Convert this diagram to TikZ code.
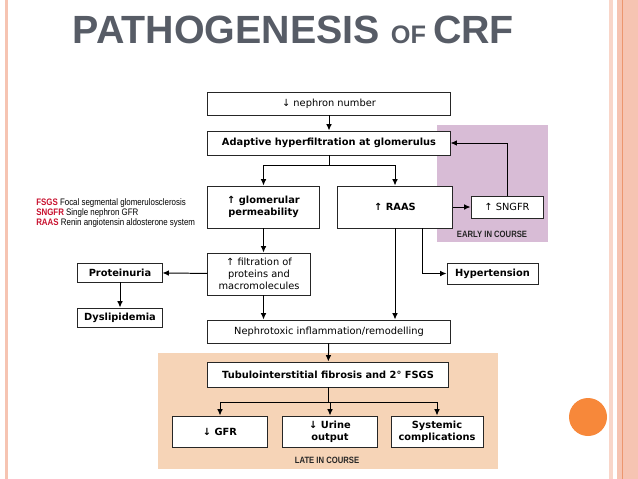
\documentclass[tikz,border=0pt]{standalone}
\usepackage{fontspec}
\setmainfont{DejaVu Sans}
\newfontfamily\titlefont{Liberation Sans}
\newfontfamily\narrowfont[FakeStretch=0.84]{Liberation Sans}
\usetikzlibrary{arrows.meta}

\definecolor{framepink}{RGB}{246,196,178}
\definecolor{frameorange}{RGB}{236,150,110}
\definecolor{earlyfill}{RGB}{216,188,214}
\definecolor{latefill}{RGB}{246,212,183}
\definecolor{dotorange}{RGB}{247,136,58}
\definecolor{titlegray}{RGB}{87,92,102}
\definecolor{abbrred}{RGB}{200,16,46}

\tikzset{
	box/.style={draw=black!85, fill=white, line width=0.7pt, align=center, inner sep=1pt,
		font=\fontsize{7}{8.6}\selectfont},
	bbox/.style={box, font=\fontsize{7}{8.6}\selectfont\bfseries},
	arr/.style={line width=0.7pt, -{Latex[length=4.5pt,width=4pt]}},
	course/.style={font=\narrowfont\fontsize{6.5}{7}\selectfont\bfseries, text=black!85}
}

\begin{document}
\begin{tikzpicture}[x=0.025cm, y=-0.025cm]
	\useasboundingbox (0,0) rectangle (638,479);

	%slide frame
	\fill [framepink] (4.5,0) rectangle (7.5,479);
	\fill [framepink!70] (609,0) rectangle (612.5,479);
	\fill [framepink] (617,0) rectangle (638,479);
	\draw [frameorange, line width=0.6pt] (622.5,0) -- (622.5,479);
	\fill [dotorange] (588,417) circle (19);

	%title
	\node [text=titlegray, font=\titlefont\bfseries, anchor=west] (title) at (68,30)
		{\fontsize{28}{30}\selectfont PATHOGENESIS \fontsize{18}{20}\selectfont OF \fontsize{28}{30}\selectfont CRF};

	%legend
	\node [font=\narrowfont\fontsize{6.7}{7.1}\selectfont, align=left, anchor=west, inner sep=0pt] (legend) at (36,213)
		{{\color{abbrred}\bfseries FSGS} Focal segmental glomerulosclerosis\\
		 {\color{abbrred}\bfseries SNGFR} Single nephron GFR\\
		 {\color{abbrred}\bfseries RAAS} Renin angiotensin aldosterone system};

	%regions
	\fill [earlyfill] (437,125) rectangle (548,242);
	\fill [latefill] (158,353) rectangle (498,469);
	\node [course] (early) at (492,234) {EARLY IN COURSE};
	\node [course] (late) at (327,460) {LATE IN COURSE};

	%nodes
	\node [box, minimum width=6.05cm, minimum height=0.575cm] (nephron) at (329,103.5) {↓ nephron number};
	\node [bbox, minimum width=6.05cm, minimum height=0.6cm] (adaptive) at (329,143) {Adaptive hyperfiltration at glomerulus};
	\node [bbox, minimum width=2.775cm, minimum height=1.05cm] (glom) at (263.5,207) {↑ glomerular\\permeability};
	\node [bbox, minimum width=2.85cm, minimum height=1.05cm] (raas) at (395,207) {↑ RAAS};
	\node [box, minimum width=1.8cm, minimum height=0.55cm] (sngfr) at (507,207) {↑ SNGFR};
	\node [box, minimum width=2.55cm, minimum height=1.05cm] (filt) at (259,274) {↑ filtration of\\proteins and\\macromolecules};
	\node [bbox, minimum width=2.1cm, minimum height=0.475cm] (prot) at (120,272.5) {Proteinuria};
	\node [bbox, minimum width=2.1cm, minimum height=0.475cm] (dys) at (120,317.5) {Dyslipidemia};
	\node [bbox, minimum width=2.275cm, minimum height=0.525cm] (hyper) at (492.5,273.5) {Hypertension};
	\node [box, minimum width=6.05cm, minimum height=0.575cm] (nephro) at (329,331.5) {Nephrotoxic inflammation/remodelling};
	\node [bbox, minimum width=6.0cm, minimum height=0.625cm] (tubulo) at (328,374.5) {Tubulointerstitial fibrosis and 2° FSGS};
	\node [bbox, minimum width=2.35cm, minimum height=0.775cm] (gfr) at (220,431.5) {↓ GFR};
	\node [bbox, minimum width=2.35cm, minimum height=0.775cm] (urine) at (330,431.5) {↓ Urine\\output};
	\node [bbox, minimum width=2.3cm, minimum height=0.775cm] (sys) at (437,431.5) {Systemic\\complications};

	%paths
	\draw [arr] (nephron) -- (adaptive);
	\draw [arr] (adaptive.south) -- ++(0,10) -| (glom.north);
	\draw [arr] (adaptive.south) -- ++(0,10) -| (raas.north);
	\draw [arr] (raas) -- (sngfr);
	\draw [arr] (sngfr.north) |- (adaptive.east);
	\draw [arr] (glom.south) -- (glom.south |- filt.north);
	\draw [arr] (filt) -- (prot);
	\draw [arr] (prot) -- (dys);
	\draw [arr] ([xshift=0.675cm]raas.south) |- (hyper.west);
	\draw [arr] (glom.south |- filt.south) -- (glom.south |- nephro.north);
	\draw [arr] (raas.south) -- (raas.south |- nephro.north);
	\draw [arr] (nephro) -- (tubulo);
	\foreach \b in {gfr, urine, sys}
		\draw [arr] (tubulo.south) -- ++(0,15) -| (\b.north);

\end{tikzpicture}
\end{document}
